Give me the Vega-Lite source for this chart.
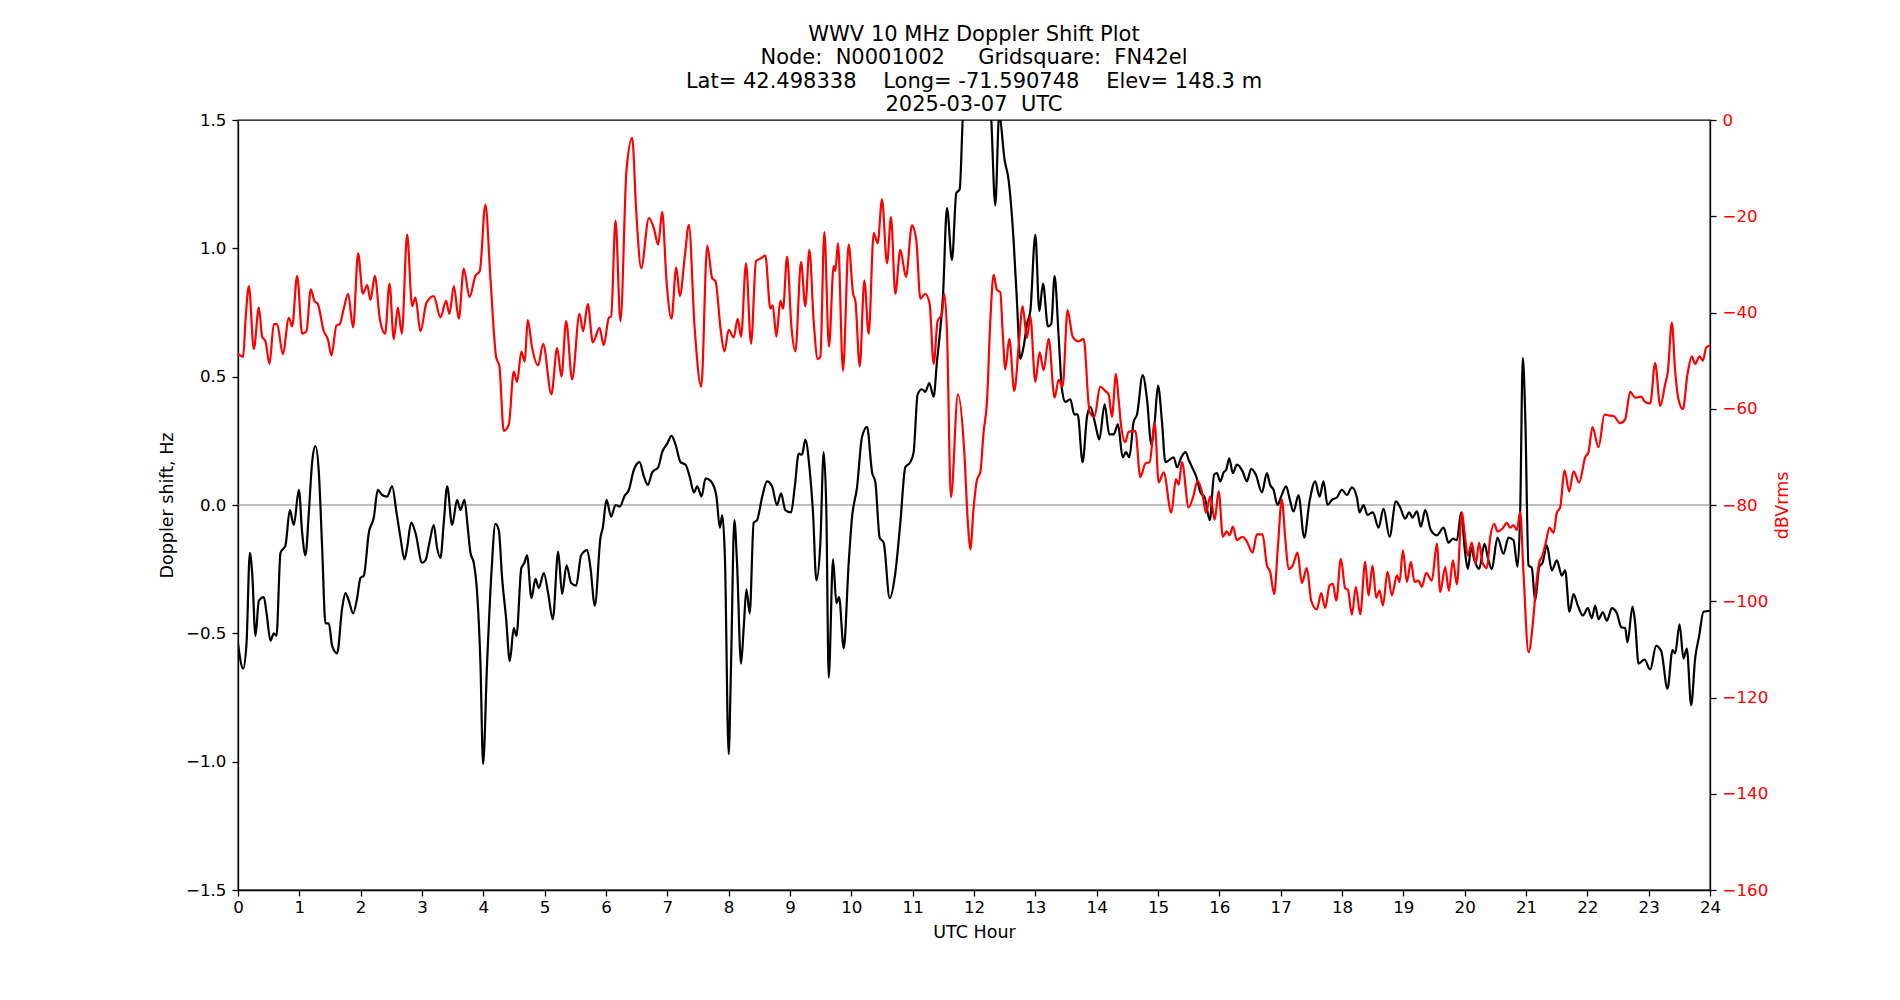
{
"$schema": "https://vega.github.io/schema/vega-lite/v6.json",
"width": 1472, "height": 770,
"autosize": {"type": "none"},
"padding": {"left": 238, "top": 120, "right": 190, "bottom": 110},
"background": "white",
"config": {
  "view": {"stroke": "black", "strokeWidth": 1.3},
  "font": "DejaVu Sans",
  "axis": {"labelFont": "DejaVu Sans", "labelFontSize": 16.7, "labelColor": "black", "titleFont": "DejaVu Sans", "titleFontSize": 17.5, "titleFontWeight": "normal", "titleColor": "black", "tickColor": "black", "tickSize": 6, "tickWidth": 1.3, "domainColor": "black", "domainWidth": 1.3, "grid": false, "labelFlush": false, "labelOverlap": false}
},
"title": {"text": ["WWV 10 MHz Doppler Shift Plot", "Node:\u00a0 N0001002\u00a0\u00a0\u00a0\u00a0 Gridsquare:\u00a0 FN42el", "Lat= 42.498338\u00a0\u00a0\u00a0 Long= -71.590748\u00a0\u00a0\u00a0 Elev= 148.3 m", "2025-03-07\u00a0 UTC"], "font": "DejaVu Sans", "fontSize": 21, "fontWeight": "normal", "color": "black", "anchor": "middle", "lineHeight": 23.3, "offset": -3},
"datasets": {
"doppler": [
{"h":0,"v":-0.54},{"h":0.084,"v":-0.637},{"h":0.139,"v":-0.539},{"h":0.193,"v":-0.186},{"h":0.231,"v":-0.265},{"h":0.285,"v":-0.51},{"h":0.34,"v":-0.373},{"h":0.421,"v":-0.359},{"h":0.465,"v":-0.42},{"h":0.53,"v":-0.529},{"h":0.584,"v":-0.5},{"h":0.627,"v":-0.51},{"h":0.693,"v":-0.186},{"h":0.774,"v":-0.157},{"h":0.845,"v":-0.02},{"h":0.91,"v":-0.078},{"h":0.992,"v":0.059},{"h":1.046,"v":-0.108},{"h":1.1,"v":-0.196},{"h":1.155,"v":-0.029},{"h":1.209,"v":0.167},{"h":1.263,"v":0.229},{"h":1.318,"v":0.127},{"h":1.372,"v":-0.167},{"h":1.426,"v":-0.461},{"h":1.481,"v":-0.461},{"h":1.535,"v":-0.549},{"h":1.616,"v":-0.578},{"h":1.698,"v":-0.402},{"h":1.752,"v":-0.343},{"h":1.807,"v":-0.373},{"h":1.877,"v":-0.422},{"h":1.942,"v":-0.363},{"h":1.997,"v":-0.284},{"h":2.051,"v":-0.275},{"h":2.133,"v":-0.108},{"h":2.214,"v":-0.049},{"h":2.279,"v":0.059},{"h":2.35,"v":0.039},{"h":2.431,"v":0.033},{"h":2.513,"v":0.073},{"h":2.584,"v":-0.029},{"h":2.649,"v":-0.127},{"h":2.714,"v":-0.212},{"h":2.757,"v":-0.167},{"h":2.823,"v":-0.069},{"h":2.893,"v":-0.108},{"h":3.002,"v":-0.225},{"h":3.056,"v":-0.216},{"h":3.121,"v":-0.147},{"h":3.192,"v":-0.078},{"h":3.246,"v":-0.167},{"h":3.301,"v":-0.206},{"h":3.355,"v":-0.069},{"h":3.41,"v":0.073},{"h":3.491,"v":-0.078},{"h":3.573,"v":0.02},{"h":3.627,"v":-0.02},{"h":3.692,"v":0.02},{"h":3.746,"v":-0.088},{"h":3.79,"v":-0.186},{"h":3.844,"v":-0.225},{"h":3.899,"v":-0.343},{"h":3.953,"v":-0.618},{"h":3.996,"v":-1.01},{"h":4.061,"v":-0.618},{"h":4.132,"v":-0.265},{"h":4.197,"v":-0.073},{"h":4.252,"v":-0.098},{"h":4.306,"v":-0.284},{"h":4.371,"v":-0.441},{"h":4.431,"v":-0.608},{"h":4.496,"v":-0.48},{"h":4.54,"v":-0.51},{"h":4.62,"v":-0.245},{"h":4.67,"v":-0.225},{"h":4.713,"v":-0.196},{"h":4.784,"v":-0.363},{"h":4.85,"v":-0.288},{"h":4.904,"v":-0.324},{"h":4.986,"v":-0.265},{"h":5.056,"v":-0.343},{"h":5.133,"v":-0.445},{"h":5.22,"v":-0.182},{"h":5.285,"v":-0.347},{"h":5.356,"v":-0.235},{"h":5.432,"v":-0.304},{"h":5.513,"v":-0.314},{"h":5.595,"v":-0.196},{"h":5.693,"v":-0.176},{"h":5.747,"v":-0.245},{"h":5.818,"v":-0.392},{"h":5.91,"v":-0.127},{"h":5.948,"v":-0.088},{"h":6.008,"v":0.02},{"h":6.084,"v":-0.045},{"h":6.155,"v":0},{"h":6.226,"v":-0.006},{"h":6.302,"v":0.035},{"h":6.373,"v":0.059},{"h":6.454,"v":0.137},{"h":6.547,"v":0.167},{"h":6.617,"v":0.112},{"h":6.682,"v":0.078},{"h":6.753,"v":0.127},{"h":6.851,"v":0.147},{"h":6.916,"v":0.206},{"h":6.998,"v":0.239},{"h":7.068,"v":0.269},{"h":7.134,"v":0.235},{"h":7.215,"v":0.167},{"h":7.297,"v":0.157},{"h":7.367,"v":0.108},{"h":7.433,"v":0.049},{"h":7.487,"v":0.073},{"h":7.558,"v":0.033},{"h":7.623,"v":0.104},{"h":7.705,"v":0.094},{"h":7.797,"v":0.039},{"h":7.857,"v":-0.088},{"h":7.895,"v":-0.039},{"h":7.939,"v":-0.206},{"h":8.0,"v":-0.971},{"h":8.039,"v":-0.618},{"h":8.093,"v":-0.059},{"h":8.136,"v":-0.225},{"h":8.202,"v":-0.618},{"h":8.245,"v":-0.48},{"h":8.289,"v":-0.329},{"h":8.343,"v":-0.422},{"h":8.408,"v":-0.069},{"h":8.463,"v":-0.059},{"h":8.544,"v":0.029},{"h":8.625,"v":0.092},{"h":8.707,"v":0.073},{"h":8.788,"v":0},{"h":8.854,"v":0.045},{"h":8.924,"v":-0.02},{"h":9.017,"v":-0.029},{"h":9.077,"v":0.069},{"h":9.142,"v":0.2},{"h":9.196,"v":0.196},{"h":9.25,"v":0.255},{"h":9.321,"v":0.137},{"h":9.375,"v":-0.029},{"h":9.43,"v":-0.294},{"h":9.495,"v":-0.147},{"h":9.549,"v":0.206},{"h":9.593,"v":-0.029},{"h":9.631,"v":-0.673},{"h":9.702,"v":-0.212},{"h":9.756,"v":-0.382},{"h":9.8,"v":-0.359},{"h":9.876,"v":-0.559},{"h":9.957,"v":-0.225},{"h":10.011,"v":-0.049},{"h":10.093,"v":0.069},{"h":10.174,"v":0.265},{"h":10.256,"v":0.304},{"h":10.338,"v":0.127},{"h":10.392,"v":0.088},{"h":10.462,"v":-0.127},{"h":10.527,"v":-0.147},{"h":10.625,"v":-0.363},{"h":10.717,"v":-0.265},{"h":10.799,"v":-0.069},{"h":10.88,"v":0.147},{"h":10.962,"v":0.167},{"h":11.016,"v":0.206},{"h":11.081,"v":0.431},{"h":11.152,"v":0.451},{"h":11.206,"v":0.441},{"h":11.271,"v":0.475},{"h":11.342,"v":0.422},{"h":11.396,"v":0.559},{"h":11.451,"v":0.686},{"h":11.494,"v":0.814},{"h":11.559,"v":1.157},{"h":11.641,"v":0.955},{"h":11.712,"v":1.216},{"h":11.766,"v":1.229},{"h":11.815,"v":1.5},{"h":11.9,"v":1.9},{"h":12.05,"v":2.0},{"h":12.2,"v":1.8},{"h":12.282,"v":1.5},{"h":12.347,"v":1.167},{"h":12.41,"v":1.52},{"h":12.5,"v":1.343},{"h":12.565,"v":1.265},{"h":12.646,"v":1.029},{"h":12.7,"v":0.794},{"h":12.755,"v":0.569},{"h":12.81,"v":0.618},{"h":12.864,"v":0.706},{"h":12.918,"v":0.755},{"h":13.0,"v":1.053},{"h":13.065,"v":0.755},{"h":13.125,"v":0.863},{"h":13.206,"v":0.696},{"h":13.26,"v":0.706},{"h":13.314,"v":0.892},{"h":13.38,"v":0.657},{"h":13.434,"v":0.451},{"h":13.488,"v":0.402},{"h":13.57,"v":0.412},{"h":13.635,"v":0.353},{"h":13.69,"v":0.353},{"h":13.771,"v":0.167},{"h":13.842,"v":0.343},{"h":13.896,"v":0.382},{"h":13.978,"v":0.314},{"h":14.043,"v":0.255},{"h":14.13,"v":0.392},{"h":14.206,"v":0.275},{"h":14.277,"v":0.275},{"h":14.347,"v":0.314},{"h":14.424,"v":0.186},{"h":14.478,"v":0.206},{"h":14.532,"v":0.186},{"h":14.603,"v":0.324},{"h":14.658,"v":0.353},{"h":14.75,"v":0.506},{"h":14.821,"v":0.412},{"h":14.892,"v":0.235},{"h":14.946,"v":0.324},{"h":15.0,"v":0.465},{"h":15.065,"v":0.324},{"h":15.12,"v":0.167},{"h":15.185,"v":0.176},{"h":15.255,"v":0.186},{"h":15.31,"v":0.147},{"h":15.38,"v":0.186},{"h":15.45,"v":0.206},{"h":15.5,"v":0.176},{"h":15.556,"v":0.147},{"h":15.627,"v":0.108},{"h":15.692,"v":0.049},{"h":15.763,"v":0.029},{"h":15.844,"v":-0.059},{"h":15.915,"v":0.118},{"h":15.96,"v":0.124},{"h":16.015,"v":0.092},{"h":16.07,"v":0.127},{"h":16.112,"v":0.137},{"h":16.161,"v":0.182},{"h":16.221,"v":0.124},{"h":16.286,"v":0.157},{"h":16.379,"v":0.131},{"h":16.449,"v":0.092},{"h":16.52,"v":0.141},{"h":16.596,"v":0.118},{"h":16.694,"v":0.049},{"h":16.775,"v":0.124},{"h":16.829,"v":0.078},{"h":16.884,"v":0.059},{"h":16.949,"v":0},{"h":17.008,"v":0.033},{"h":17.09,"v":0.073},{"h":17.145,"v":0.025},{"h":17.21,"v":-0.025},{"h":17.291,"v":0.039},{"h":17.384,"v":-0.127},{"h":17.471,"v":0.014},{"h":17.563,"v":0.092},{"h":17.634,"v":0.033},{"h":17.699,"v":0.092},{"h":17.764,"v":0},{"h":17.835,"v":0.02},{"h":17.916,"v":0.029},{"h":17.998,"v":0.059},{"h":18.08,"v":0.039},{"h":18.161,"v":0.069},{"h":18.243,"v":0.029},{"h":18.286,"v":-0.029},{"h":18.351,"v":0},{"h":18.416,"v":-0.039},{"h":18.503,"v":-0.029},{"h":18.596,"v":-0.088},{"h":18.677,"v":-0.014},{"h":18.775,"v":-0.124},{"h":18.878,"v":0.014},{"h":18.949,"v":-0.01},{"h":19.03,"v":-0.053},{"h":19.095,"v":-0.029},{"h":19.15,"v":-0.049},{"h":19.221,"v":-0.025},{"h":19.286,"v":-0.084},{"h":19.357,"v":-0.02},{"h":19.449,"v":-0.098},{"h":19.547,"v":-0.118},{"h":19.656,"v":-0.088},{"h":19.737,"v":-0.147},{"h":19.808,"v":-0.131},{"h":19.873,"v":-0.137},{"h":19.943,"v":-0.029},{"h":20.0,"v":-0.17},{"h":20.052,"v":-0.249},{"h":20.106,"v":-0.167},{"h":20.16,"v":-0.216},{"h":20.236,"v":-0.249},{"h":20.323,"v":-0.151},{"h":20.388,"v":-0.216},{"h":20.443,"v":-0.249},{"h":20.535,"v":-0.127},{"h":20.633,"v":-0.19},{"h":20.714,"v":-0.127},{"h":20.796,"v":-0.137},{"h":20.861,"v":-0.241},{"h":20.905,"v":-0.029},{"h":20.948,"v":0.573},{"h":20.986,"v":0.363},{"h":21.041,"v":-0.235},{"h":21.095,"v":-0.245},{"h":21.149,"v":-0.373},{"h":21.215,"v":-0.241},{"h":21.269,"v":-0.225},{"h":21.34,"v":-0.157},{"h":21.421,"v":-0.255},{"h":21.503,"v":-0.216},{"h":21.584,"v":-0.275},{"h":21.638,"v":-0.255},{"h":21.709,"v":-0.416},{"h":21.775,"v":-0.347},{"h":21.845,"v":-0.392},{"h":21.927,"v":-0.431},{"h":22.008,"v":-0.402},{"h":22.073,"v":-0.441},{"h":22.128,"v":-0.392},{"h":22.182,"v":-0.445},{"h":22.253,"v":-0.418},{"h":22.318,"v":-0.451},{"h":22.4,"v":-0.402},{"h":22.482,"v":-0.422},{"h":22.552,"v":-0.476},{"h":22.617,"v":-0.48},{"h":22.655,"v":-0.535},{"h":22.737,"v":-0.396},{"h":22.78,"v":-0.461},{"h":22.835,"v":-0.618},{"h":22.932,"v":-0.602},{"h":23.025,"v":-0.641},{"h":23.122,"v":-0.549},{"h":23.204,"v":-0.569},{"h":23.307,"v":-0.716},{"h":23.389,"v":-0.565},{"h":23.432,"v":-0.578},{"h":23.503,"v":-0.465},{"h":23.568,"v":-0.598},{"h":23.622,"v":-0.559},{"h":23.693,"v":-0.78},{"h":23.758,"v":-0.598},{"h":23.823,"v":-0.51},{"h":23.894,"v":-0.416},{"h":24.0,"v":-0.412}
],
"power": [
{"h":0,"db":-48.6},{"h":0.084,"db":-49.2},{"h":0.122,"db":-41.8},{"h":0.177,"db":-34.5},{"h":0.258,"db":-47.6},{"h":0.34,"db":-39},{"h":0.394,"db":-45},{"h":0.448,"db":-46},{"h":0.514,"db":-50.7},{"h":0.584,"db":-42.4},{"h":0.638,"db":-42.4},{"h":0.731,"db":-48.6},{"h":0.829,"db":-41.1},{"h":0.883,"db":-42.9},{"h":0.964,"db":-32.4},{"h":1.046,"db":-44.4},{"h":1.116,"db":-43.9},{"h":1.187,"db":-35.2},{"h":1.247,"db":-37.6},{"h":1.3,"db":-38.2},{"h":1.399,"db":-43.9},{"h":1.464,"db":-45.5},{"h":1.524,"db":-48.9},{"h":1.605,"db":-42.7},{"h":1.659,"db":-42.4},{"h":1.724,"db":-39.2},{"h":1.795,"db":-36.1},{"h":1.877,"db":-43.1},{"h":1.959,"db":-27.7},{"h":2.035,"db":-36.1},{"h":2.106,"db":-34.3},{"h":2.16,"db":-37.4},{"h":2.231,"db":-32.4},{"h":2.312,"db":-41.3},{"h":2.399,"db":-44.4},{"h":2.47,"db":-34},{"h":2.54,"db":-45.5},{"h":2.606,"db":-39},{"h":2.671,"db":-44.4},{"h":2.758,"db":-23.8},{"h":2.839,"db":-38.7},{"h":2.893,"db":-36.9},{"h":2.975,"db":-43.9},{"h":3.073,"db":-38},{"h":3.192,"db":-36.6},{"h":3.301,"db":-41},{"h":3.393,"db":-37.6},{"h":3.448,"db":-40.3},{"h":3.518,"db":-34.5},{"h":3.6,"db":-41.3},{"h":3.681,"db":-30.9},{"h":3.774,"db":-36.8},{"h":3.871,"db":-32.4},{"h":3.942,"db":-31.4},{"h":4.034,"db":-17.6},{"h":4.116,"db":-32.9},{"h":4.208,"db":-49.2},{"h":4.262,"db":-51.2},{"h":4.333,"db":-64.6},{"h":4.415,"db":-63.3},{"h":4.496,"db":-52.3},{"h":4.55,"db":-54.4},{"h":4.62,"db":-48.1},{"h":4.675,"db":-50.2},{"h":4.724,"db":-41.6},{"h":4.795,"db":-47.3},{"h":4.893,"db":-51},{"h":4.975,"db":-46.5},{"h":5.11,"db":-57},{"h":5.203,"db":-47.4},{"h":5.274,"db":-53.3},{"h":5.35,"db":-41.8},{"h":5.448,"db":-53.9},{"h":5.568,"db":-40.3},{"h":5.627,"db":-43.9},{"h":5.703,"db":-38.2},{"h":5.785,"db":-46.2},{"h":5.894,"db":-43.2},{"h":5.964,"db":-46.8},{"h":6.046,"db":-41.1},{"h":6.084,"db":-40.8},{"h":6.155,"db":-20.9},{"h":6.236,"db":-41.8},{"h":6.334,"db":-10.5},{"h":6.427,"db":-3.7},{"h":6.492,"db":-18.8},{"h":6.574,"db":-30.8},{"h":6.699,"db":-20.4},{"h":6.78,"db":-22.5},{"h":6.851,"db":-25.9},{"h":6.916,"db":-19.1},{"h":6.987,"db":-33.5},{"h":7.068,"db":-41.3},{"h":7.145,"db":-30.6},{"h":7.204,"db":-36.6},{"h":7.286,"db":-28.2},{"h":7.351,"db":-21.8},{"h":7.444,"db":-42.9},{"h":7.553,"db":-55.4},{"h":7.65,"db":-26.1},{"h":7.732,"db":-32.9},{"h":7.786,"db":-33.5},{"h":7.868,"db":-43.4},{"h":7.93,"db":-48.1},{"h":8.001,"db":-43.6},{"h":8.082,"db":-45.2},{"h":8.147,"db":-41.3},{"h":8.202,"db":-45},{"h":8.283,"db":-29.8},{"h":8.365,"db":-46.5},{"h":8.446,"db":-29.3},{"h":8.517,"db":-28.8},{"h":8.598,"db":-28.2},{"h":8.68,"db":-39.2},{"h":8.718,"db":-38.5},{"h":8.778,"db":-45},{"h":8.843,"db":-37.6},{"h":8.887,"db":-39.2},{"h":8.952,"db":-28.4},{"h":9.023,"db":-42.9},{"h":9.088,"db":-48.1},{"h":9.18,"db":-29.5},{"h":9.25,"db":-38.7},{"h":9.316,"db":-27},{"h":9.386,"db":-41.8},{"h":9.452,"db":-49.7},{"h":9.495,"db":-49.2},{"h":9.56,"db":-23.3},{"h":9.636,"db":-47.1},{"h":9.712,"db":-30.3},{"h":9.739,"db":-31.4},{"h":9.783,"db":-25.6},{"h":9.864,"db":-52.1},{"h":9.957,"db":-25.9},{"h":10.028,"db":-36.1},{"h":10.066,"db":-37.6},{"h":10.137,"db":-51.2},{"h":10.212,"db":-33.3},{"h":10.283,"db":-44.4},{"h":10.365,"db":-23.5},{"h":10.43,"db":-25.6},{"h":10.5,"db":-16.5},{"h":10.582,"db":-29.8},{"h":10.647,"db":-20.2},{"h":10.717,"db":-36.1},{"h":10.799,"db":-27},{"h":10.891,"db":-32.6},{"h":10.989,"db":-21.9},{"h":11.06,"db":-25.1},{"h":11.125,"db":-37.1},{"h":11.206,"db":-36.1},{"h":11.277,"db":-38.2},{"h":11.342,"db":-50.7},{"h":11.407,"db":-41.8},{"h":11.477,"db":-40.3},{"h":11.516,"db":-36.1},{"h":11.559,"db":-43.9},{"h":11.624,"db":-78.4},{"h":11.738,"db":-57},{"h":11.842,"db":-69},{"h":11.9,"db":-83.7},{"h":11.94,"db":-89.2},{"h":11.994,"db":-80.5},{"h":12.048,"db":-74.8},{"h":12.103,"db":-73.2},{"h":12.157,"db":-64.8},{"h":12.211,"db":-58.6},{"h":12.266,"db":-41.8},{"h":12.32,"db":-32.2},{"h":12.374,"db":-35.3},{"h":12.429,"db":-35.8},{"h":12.467,"db":-43.9},{"h":12.51,"db":-51.8},{"h":12.576,"db":-45.5},{"h":12.657,"db":-56.3},{"h":12.728,"db":-47.1},{"h":12.793,"db":-38.7},{"h":12.864,"db":-45.3},{"h":12.918,"db":-40.8},{"h":13.0,"db":-54.4},{"h":13.07,"db":-48.3},{"h":13.135,"db":-52},{"h":13.217,"db":-45.5},{"h":13.314,"db":-57.7},{"h":13.38,"db":-54},{"h":13.445,"db":-55.4},{"h":13.526,"db":-39.5},{"h":13.608,"db":-45},{"h":13.706,"db":-46},{"h":13.787,"db":-45.5},{"h":13.885,"db":-60.7},{"h":13.961,"db":-61.7},{"h":14.059,"db":-55.4},{"h":14.139,"db":-56.3},{"h":14.195,"db":-57},{"h":14.249,"db":-61.7},{"h":14.314,"db":-52.8},{"h":14.358,"db":-58},{"h":14.401,"db":-63.8},{"h":14.466,"db":-66.9},{"h":14.521,"db":-64.8},{"h":14.63,"db":-64.6},{"h":14.712,"db":-74.2},{"h":14.793,"db":-71.4},{"h":14.864,"db":-71.1},{"h":14.946,"db":-63},{"h":15.011,"db":-75.3},{"h":15.092,"db":-73.2},{"h":15.217,"db":-81.6},{"h":15.293,"db":-74.6},{"h":15.337,"db":-75.8},{"h":15.391,"db":-71.1},{"h":15.5,"db":-80.5},{"h":15.571,"db":-78.4},{"h":15.647,"db":-75},{"h":15.728,"db":-77.9},{"h":15.782,"db":-81.6},{"h":15.853,"db":-78.2},{"h":15.924,"db":-83.1},{"h":15.989,"db":-77.1},{"h":16.058,"db":-86.6},{"h":16.123,"db":-85.5},{"h":16.167,"db":-86.3},{"h":16.221,"db":-84.5},{"h":16.286,"db":-87.3},{"h":16.379,"db":-86.6},{"h":16.449,"db":-87.6},{"h":16.542,"db":-89.9},{"h":16.612,"db":-86.1},{"h":16.705,"db":-86.1},{"h":16.775,"db":-92.5},{"h":16.829,"db":-93.9},{"h":16.894,"db":-98.5},{"h":16.954,"db":-88.9},{"h":17.019,"db":-78.9},{"h":17.074,"db":-86.8},{"h":17.128,"db":-93.3},{"h":17.199,"db":-92.5},{"h":17.275,"db":-89.9},{"h":17.346,"db":-96.2},{"h":17.427,"db":-93.1},{"h":17.498,"db":-99.9},{"h":17.59,"db":-101.7},{"h":17.661,"db":-98.3},{"h":17.726,"db":-101.4},{"h":17.797,"db":-96.7},{"h":17.852,"db":-96.4},{"h":17.906,"db":-99.9},{"h":17.982,"db":-91.2},{"h":18.052,"db":-97.3},{"h":18.096,"db":-97.6},{"h":18.161,"db":-102.8},{"h":18.226,"db":-97},{"h":18.297,"db":-102.7},{"h":18.378,"db":-91.8},{"h":18.432,"db":-98.8},{"h":18.498,"db":-92.6},{"h":18.558,"db":-99.3},{"h":18.612,"db":-97.8},{"h":18.667,"db":-100.9},{"h":18.743,"db":-93.9},{"h":18.813,"db":-98.8},{"h":18.895,"db":-94.6},{"h":18.938,"db":-96},{"h":18.993,"db":-89.4},{"h":19.058,"db":-96},{"h":19.123,"db":-91.8},{"h":19.183,"db":-96},{"h":19.248,"db":-95.7},{"h":19.302,"db":-97},{"h":19.373,"db":-94.1},{"h":19.465,"db":-95.7},{"h":19.547,"db":-88},{"h":19.601,"db":-98.1},{"h":19.683,"db":-92.9},{"h":19.743,"db":-97.8},{"h":19.808,"db":-91.5},{"h":19.873,"db":-96.5},{"h":19.954,"db":-81.5},{"h":20.003,"db":-86.3},{"h":20.052,"db":-90.5},{"h":20.117,"db":-87.8},{"h":20.182,"db":-92.2},{"h":20.236,"db":-87.8},{"h":20.291,"db":-92},{"h":20.361,"db":-93.1},{"h":20.416,"db":-86.8},{"h":20.481,"db":-83.9},{"h":20.535,"db":-85.5},{"h":20.617,"db":-84.9},{"h":20.687,"db":-83.7},{"h":20.742,"db":-84.7},{"h":20.796,"db":-84.2},{"h":20.851,"db":-85.2},{"h":20.905,"db":-81.4},{"h":20.959,"db":-94.1},{"h":21.041,"db":-110.6},{"h":21.112,"db":-104.6},{"h":21.161,"db":-97.3},{"h":21.215,"db":-92},{"h":21.269,"db":-90.5},{"h":21.323,"db":-87.8},{"h":21.383,"db":-84.7},{"h":21.449,"db":-85.8},{"h":21.503,"db":-81.6},{"h":21.557,"db":-80.5},{"h":21.628,"db":-72.8},{"h":21.704,"db":-77.2},{"h":21.775,"db":-73},{"h":21.867,"db":-75.3},{"h":21.965,"db":-70.1},{"h":22.019,"db":-69},{"h":22.084,"db":-63.8},{"h":22.182,"db":-68},{"h":22.28,"db":-61.2},{"h":22.345,"db":-61.4},{"h":22.427,"db":-61.5},{"h":22.536,"db":-63},{"h":22.617,"db":-62.2},{"h":22.698,"db":-56.5},{"h":22.78,"db":-57.7},{"h":22.878,"db":-57.5},{"h":22.943,"db":-58.6},{"h":23.025,"db":-58.9},{"h":23.106,"db":-50.5},{"h":23.188,"db":-59.4},{"h":23.269,"db":-54.9},{"h":23.313,"db":-52.3},{"h":23.378,"db":-42.1},{"h":23.432,"db":-52.3},{"h":23.487,"db":-58.1},{"h":23.557,"db":-60.1},{"h":23.633,"db":-52.8},{"h":23.704,"db":-49.1},{"h":23.758,"db":-50.7},{"h":23.829,"db":-49.1},{"h":23.883,"db":-50},{"h":23.938,"db":-47.3},{"h":24.0,"db":-46.8}
]
},
"layer": [
  {
    "data": {"values": [{"z": 0}]},
    "mark": {"type": "rule", "color": "#808080", "strokeWidth": 1.2},
    "encoding": {"y": {"field": "z", "type": "quantitative", "scale": {"domain": [-1.5, 1.5], "nice": false}, "axis": null}}
  },
  {
    "data": {"name": "doppler"},
    "mark": {"type": "line", "color": "black", "strokeWidth": 2.2, "clip": true, "interpolate": "monotone"},
    "encoding": {
      "x": {"field": "h", "type": "quantitative", "scale": {"domain": [0, 24], "nice": false, "zero": false},
            "axis": {"values": [0,1,2,3,4,5,6,7,8,9,10,11,12,13,14,15,16,17,18,19,20,21,22,23,24], "format": "d", "title": "UTC Hour", "labelPadding": 3, "titlePadding": 8}},
      "y": {"field": "v", "type": "quantitative", "scale": {"domain": [-1.5, 1.5], "nice": false},
            "axis": {"orient": "left", "values": [-1.5,-1,-0.5,0,0.5,1,1.5], "format": ".1f", "title": "Doppler shift, Hz", "labelPadding": 6, "titlePadding": 9}}
    }
  },
  {
    "data": {"name": "power"},
    "mark": {"type": "line", "color": "red", "strokeWidth": 2.2, "clip": true, "interpolate": "monotone"},
    "encoding": {
      "x": {"field": "h", "type": "quantitative", "scale": {"domain": [0, 24], "nice": false, "zero": false}},
      "y": {"field": "db", "type": "quantitative", "scale": {"domain": [-160, 0], "nice": false},
            "axis": {"orient": "right", "values": [-160,-140,-120,-100,-80,-60,-40,-20,0], "format": "d", "title": "dBVrms", "labelColor": "red", "titleColor": "red", "titleAngle": 270, "labelPadding": 6, "titlePadding": 24}}
    }
  }
],
"resolve": {"scale": {"y": "independent"}}
}
